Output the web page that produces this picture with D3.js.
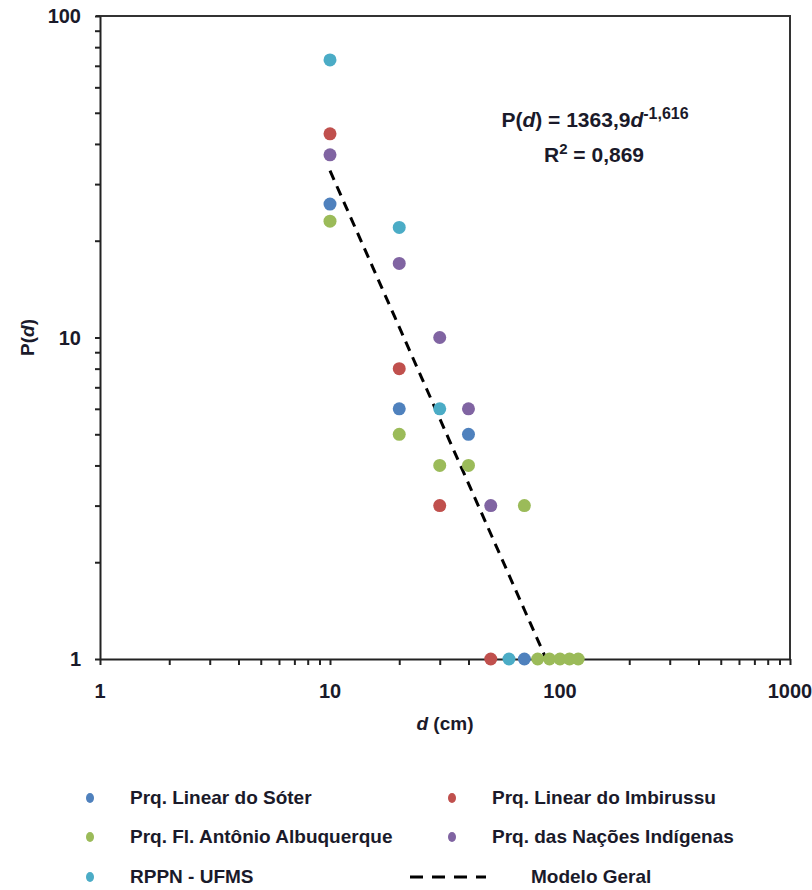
<!DOCTYPE html>
<html>
<head>
<meta charset="utf-8">
<script src="https://cdn.jsdelivr.net/npm/d3@7"></script>
<style>
  html, body { margin: 0; padding: 0; background: #fff; }
  svg { display: block; }
  text { font-family: "Liberation Sans", "Open Sans", sans-serif; fill: #1a1a2a; }
</style>
</head>
<body>
<svg id="chart" width="812" height="890"></svg>
<script>
// ---- data ----
const seriesNames = ["Prq. Linear do Sóter", "Prq. Linear do Imbirussu", "Prq. Fl. Antônio Albuquerque", "Prq. das Nações Indígenas", "RPPN - UFMS"];
const seriesColors = ["#4F81BD", "#C0504D", "#9BBB59", "#8064A2", "#4BACC6"];
// d (cm) and P(d) values per series
const soterD = [10, 20, 40, 70];
const soterP = [26, 6, 5, 1];
const imbirussuD = [10, 20, 30, 50];
const imbirussuP = [43, 8, 3, 1];
const albuquerqueD = [10, 20, 30, 40, 70, 80, 90, 100, 110, 120];
const albuquerqueP = [23, 5, 4, 4, 3, 1, 1, 1, 1, 1];
const nacoesD = [10, 20, 30, 40, 50];
const nacoesP = [37, 17, 10, 6, 3];
const rppnD = [10, 20, 30, 60];
const rppnP = [73, 22, 6, 1];
// model P(d) = a * d^b
const modelA = 1363.9;
const modelB = -1.616;
const modelRange = [10, 87.1];
const xTickLabels = [1, 10, 100, 1000];
const yTickLabels = [1, 10, 100];

const seriesD = [soterD, imbirussuD, albuquerqueD, nacoesD, rppnD];
const seriesP = [soterP, imbirussuP, albuquerqueP, nacoesP, rppnP];

// ---- layout ----
const svg = d3.select("#chart");
const x = d3.scaleLog().domain([1, 1000]).range([100, 790]);
const y = d3.scaleLog().domain([1, 100]).range([659, 16]);

const minorX = [];
[1, 10, 100].forEach(p => { for (let k = 1; k <= 9; k++) minorX.push(p * k); });
minorX.push(1000);
const minorY = [];
[1, 10].forEach(p => { for (let k = 1; k <= 9; k++) minorY.push(p * k); });
minorY.push(100);

// frame (top & right)
svg.append("path")
  .attr("d", `M${x(1) - 4},${y(100)}H${x(1000)}V${y(1)}`)
  .attr("fill", "none").attr("stroke", "#333").attr("stroke-width", 2);

// x axis
const xAxis = d3.axisBottom(x).tickValues(minorX).tickSize(6).tickSizeOuter(0).tickFormat(() => "");
const gx = svg.append("g").attr("transform", `translate(0,${y(1)})`).call(xAxis);
gx.select(".domain").attr("stroke", "#222").attr("stroke-width", 2);
gx.selectAll(".tick line").attr("stroke", "#222").attr("stroke-width", 2);

// y axis
const yAxis = d3.axisLeft(y).tickValues(minorY).tickSize(5).tickSizeOuter(0).tickFormat(() => "");
const gy = svg.append("g").attr("transform", `translate(${x(1)},0)`).call(yAxis);
gy.select(".domain").attr("stroke", "#222").attr("stroke-width", 2);
gy.selectAll(".tick line").attr("stroke", "#222").attr("stroke-width", 2);

// tick labels
svg.append("g").selectAll("text").data(xTickLabels).join("text")
  .attr("x", d => x(d)).attr("y", 698)
  .attr("text-anchor", "middle").attr("font-size", 20).attr("font-weight", "bold")
  .text(d => d);
svg.append("g").selectAll("text").data(yTickLabels).join("text")
  .attr("x", 81).attr("y", d => y(d) + 7)
  .attr("text-anchor", "end").attr("font-size", 20).attr("font-weight", "bold")
  .text(d => d);

// axis titles
const xt = svg.append("text").attr("x", 445).attr("y", 730)
  .attr("text-anchor", "middle").attr("font-size", 19).attr("font-weight", "bold");
xt.append("tspan").attr("font-style", "italic").text("d");
xt.append("tspan").text(" (cm)");
const yt = svg.append("text").attr("transform", `translate(34,${y(10)}) rotate(-90)`)
  .attr("text-anchor", "middle").attr("font-size", 19).attr("font-weight", "bold");
yt.append("tspan").text("P(");
yt.append("tspan").attr("font-style", "italic").text("d");
yt.append("tspan").text(")");

// model line
const modelPts = d3.range(0, 41).map(i => {
  const d = modelRange[0] * Math.pow(modelRange[1] / modelRange[0], i / 40);
  return [d, modelA * Math.pow(d, modelB)];
});
svg.append("path")
  .datum(modelPts)
  .attr("d", d3.line().x(p => x(p[0])).y(p => y(p[1])))
  .attr("fill", "none").attr("stroke", "#000").attr("stroke-width", 3)
  .attr("stroke-dasharray", "10,7");

// points
seriesNames.forEach((name, i) => {
  const pts = seriesD[i].map((d, j) => [d, seriesP[i][j]]);
  svg.append("g").selectAll("circle").data(pts).join("circle")
    .attr("cx", p => x(p[0])).attr("cy", p => y(p[1])).attr("r", 6.5)
    .attr("fill", seriesColors[i]);
});

// equation
const eq = svg.append("text").attr("x", 595).attr("y", 127)
  .attr("text-anchor", "middle").attr("font-size", 21).attr("font-weight", "bold");
eq.append("tspan").text("P(");
eq.append("tspan").attr("font-style", "italic").text("d");
eq.append("tspan").text(") = 1363,9");
eq.append("tspan").attr("font-style", "italic").text("d");
eq.append("tspan").attr("font-size", 16).attr("dy", -8).text("-1,616");
const r2 = svg.append("text").attr("x", 594).attr("y", 162)
  .attr("text-anchor", "middle").attr("font-size", 21).attr("font-weight", "bold");
r2.append("tspan").text("R");
r2.append("tspan").attr("font-size", 15).attr("dy", -8).text("2");
r2.append("tspan").attr("dy", 8).text(" = 0,869");

// legend
const legendPos = [[90, 797], [452, 797], [90, 836], [452, 836], [90, 876]];
seriesNames.forEach((name, i) => {
  const [lx, ly] = legendPos[i];
  svg.append("ellipse").attr("cx", lx).attr("cy", ly + 1).attr("rx", 4).attr("ry", 5)
    .attr("fill", seriesColors[i]);
  svg.append("text").attr("x", lx + 40).attr("y", ly + 7)
    .attr("font-size", 19).attr("font-weight", "bold").text(name);
});
svg.append("line").attr("x1", 410).attr("x2", 486).attr("y1", 877).attr("y2", 877)
  .attr("stroke", "#000").attr("stroke-width", 3).attr("stroke-dasharray", "13,9");
svg.append("text").attr("x", 531).attr("y", 883)
  .attr("font-size", 19).attr("font-weight", "bold").text("Modelo Geral");
</script>
</body>
</html>
